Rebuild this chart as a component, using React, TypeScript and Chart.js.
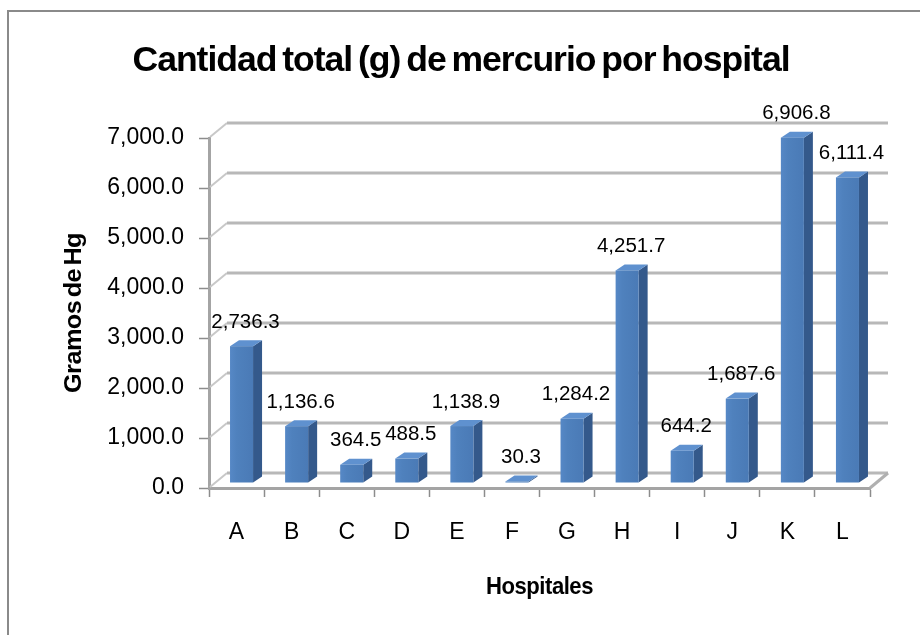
import React, { useEffect, useRef } from "react";
import { Chart, registerables } from "chart.js";

Chart.register(...registerables);

const categories = ["A", "B", "C", "D", "E", "F", "G", "H", "I", "J", "K", "L"];
const gramsHg = [2736.3, 1136.6, 364.5, 488.5, 1138.9, 30.3, 1284.2, 4251.7, 644.2, 1687.6, 6906.8, 6111.4];
const yTicks = [0, 1000, 2000, 3000, 4000, 5000, 6000, 7000];
const chartTitle = "Cantidad total (g) de mercurio por hospital";
const yTitle = "Gramos de Hg";
const xTitle = "Hospitales";

const fmt = (v: number) =>
  v.toLocaleString("en-US", { minimumFractionDigits: 1, maximumFractionDigits: 1 });

const SANS = '"Liberation Sans", Arial, sans-serif';

// 3D look
const WALL_DX = 18;
const WALL_DY = -15;
const BAR_DX = 5;
const BAR_DY = -5;
const DEPTH_X = 9;
const DEPTH_Y = -6;

function drawFitText(
  ctx: CanvasRenderingContext2D,
  text: string,
  cx: number,
  cy: number,
  font: string,
  targetW: number,
  rotate: boolean,
  letter: number,
  word: number
) {
  ctx.save();
  ctx.font = font;
  const c: any = ctx;
  c.letterSpacing = `${letter}px`;
  c.wordSpacing = `${word}px`;
  const w = ctx.measureText(text).width;
  let s = targetW / w;
  s = Math.max(0.7, Math.min(1.3, s));
  ctx.translate(cx, cy);
  if (rotate) ctx.rotate(-Math.PI / 2);
  ctx.scale(s, 1);
  ctx.fillStyle = "#000";
  ctx.textAlign = "center";
  ctx.textBaseline = "middle";
  ctx.fillText(text, 0, 0);
  ctx.restore();
}

const wallPlugin = {
  id: "wall3d",
  beforeDatasetsDraw(chart: any) {
    const { ctx, chartArea, scales } = chart;
    const { left, right, bottom } = chartArea;
    const y = scales.y;
    ctx.save();
    ctx.lineCap = "butt";
    yTicks.forEach((v) => {
      const py = y.getPixelForValue(v);
      ctx.strokeStyle = "#c8c8c8";
      ctx.lineWidth = 2;
      ctx.beginPath();
      ctx.moveTo(left + 1, py - 1);
      ctx.lineTo(left + WALL_DX, py + WALL_DY);
      ctx.stroke();
      ctx.strokeStyle = "#b8b8b8";
      ctx.lineWidth = 3;
      ctx.beginPath();
      ctx.moveTo(left + WALL_DX, py + WALL_DY);
      ctx.lineTo(right + WALL_DX, py + WALL_DY);
      ctx.stroke();
    });
    ctx.strokeStyle = "#b0b0b0";
    ctx.lineWidth = 3;
    ctx.beginPath();
    ctx.moveTo(right, bottom);
    ctx.lineTo(right + WALL_DX, bottom + WALL_DY);
    ctx.stroke();
    ctx.restore();
  },
};

const barsPlugin = {
  id: "bars3d",
  afterDatasetsDraw(chart: any) {
    const { ctx } = chart;
    const meta = chart.getDatasetMeta(0);
    ctx.save();
    meta.data.forEach((el: any, i: number) => {
      const { x, y, base, width } = el.getProps(["x", "y", "base", "width"], true);
      const l = x - width / 2 + BAR_DX;
      const r = x + width / 2 + BAR_DX;
      const t = y + BAR_DY;
      const b = base + BAR_DY;
      ctx.fillStyle = "#34598b";
      ctx.beginPath();
      ctx.moveTo(r, t);
      ctx.lineTo(r + DEPTH_X, t + DEPTH_Y);
      ctx.lineTo(r + DEPTH_X, b + DEPTH_Y);
      ctx.lineTo(r, b);
      ctx.closePath();
      ctx.fill();
      ctx.fillStyle = "#5f91cf";
      ctx.beginPath();
      ctx.moveTo(l, t);
      ctx.lineTo(l + DEPTH_X, t + DEPTH_Y);
      ctx.lineTo(r + DEPTH_X, t + DEPTH_Y);
      ctx.lineTo(r, t);
      ctx.closePath();
      ctx.fill();
      const g = ctx.createLinearGradient(l, 0, r, 0);
      g.addColorStop(0, "#5688c6");
      g.addColorStop(0.3, "#4f81bd");
      g.addColorStop(1, "#4a7ab6");
      ctx.fillStyle = g;
      ctx.fillRect(l, t, r - l, b - t);
      ctx.fillStyle = "#000";
      ctx.font = `20.5px ${SANS}`;
      ctx.textAlign = "center";
      ctx.textBaseline = "middle";
      ctx.fillText(fmt(gramsHg[i]), x + BAR_DX + 4, t - 24);
    });
    ctx.restore();
  },
};

const textPlugin = {
  id: "texts",
  afterDraw(chart: any) {
    const { ctx, chartArea } = chart;
    const { left, right, top, bottom } = chartArea;
    ctx.save();
    ctx.strokeStyle = "#8a8a8a";
    ctx.lineWidth = 2;
    ctx.strokeRect(8, 11, 1200, 1200);
    ctx.restore();
    drawFitText(ctx, chartTitle, 461, 61, `bold 35px ${SANS}`, 657, false, -1, -3);
    drawFitText(ctx, yTitle, 74, (top + bottom) / 2, `bold 24px ${SANS}`, 160, true, -0.5, -3);
    drawFitText(ctx, xTitle, (left + right) / 2, 587, `bold 24px ${SANS}`, 107, false, -0.5, -3);
  },
};

export default function App() {
  const ref = useRef<HTMLCanvasElement | null>(null);
  useEffect(() => {
    if (!ref.current) return;
    const chart = new Chart(ref.current, {
      type: "bar",
      data: {
        labels: categories,
        datasets: [
          {
            label: yTitle,
            data: gramsHg,
            backgroundColor: "rgba(0,0,0,0)",
            borderWidth: 0,
            categoryPercentage: 1,
            barPercentage: 0.418,
          },
        ],
      },
      options: {
        animation: false,
        responsive: false,
        devicePixelRatio: 1,
        layout: { padding: { top: 138, right: 50, left: 0, bottom: 0 } },
        plugins: {
          legend: { display: false },
          title: { display: false },
          tooltip: { enabled: false },
        },
        scales: {
          x: {
            type: "category",
            offset: true,
            grid: {
              display: true,
              offset: true,
              drawOnChartArea: false,
              drawTicks: true,
              tickLength: 9,
              tickColor: "#8c8c8c",
              tickWidth: 1.5,
            },
            border: { display: true, color: "#a4a4a4", width: 3 },
            ticks: {
              color: "#000",
              font: { family: SANS, size: 23 },
              padding: 22,
              maxRotation: 0,
              autoSkip: false,
            },
            afterFit(scale: any) {
              scale.height = 147;
            },
          },
          y: {
            min: 0,
            max: 7000,
            ticks: {
              stepSize: 1000,
              color: "#000",
              font: { family: SANS, size: 23 },
              padding: 15,
              callback: (v: any) => fmt(Number(v)),
            },
            grid: {
              display: true,
              drawOnChartArea: false,
              drawTicks: true,
              tickLength: 10,
              tickColor: "#8c8c8c",
              tickWidth: 1.5,
            },
            border: { display: true, color: "#a4a4a4", width: 3 },
            afterFit(scale: any) {
              scale.width = 209;
            },
          },
        },
      },
      plugins: [wallPlugin, barsPlugin, textPlugin],
    });
    return () => chart.destroy();
  }, []);
  return (
    <div style={{ position: "fixed", left: 0, top: 0, width: 920, height: 635, background: "#fff" }}>
      <canvas ref={ref} width={920} height={635} style={{ width: 920, height: 635, display: "block" }} />
    </div>
  );
}
